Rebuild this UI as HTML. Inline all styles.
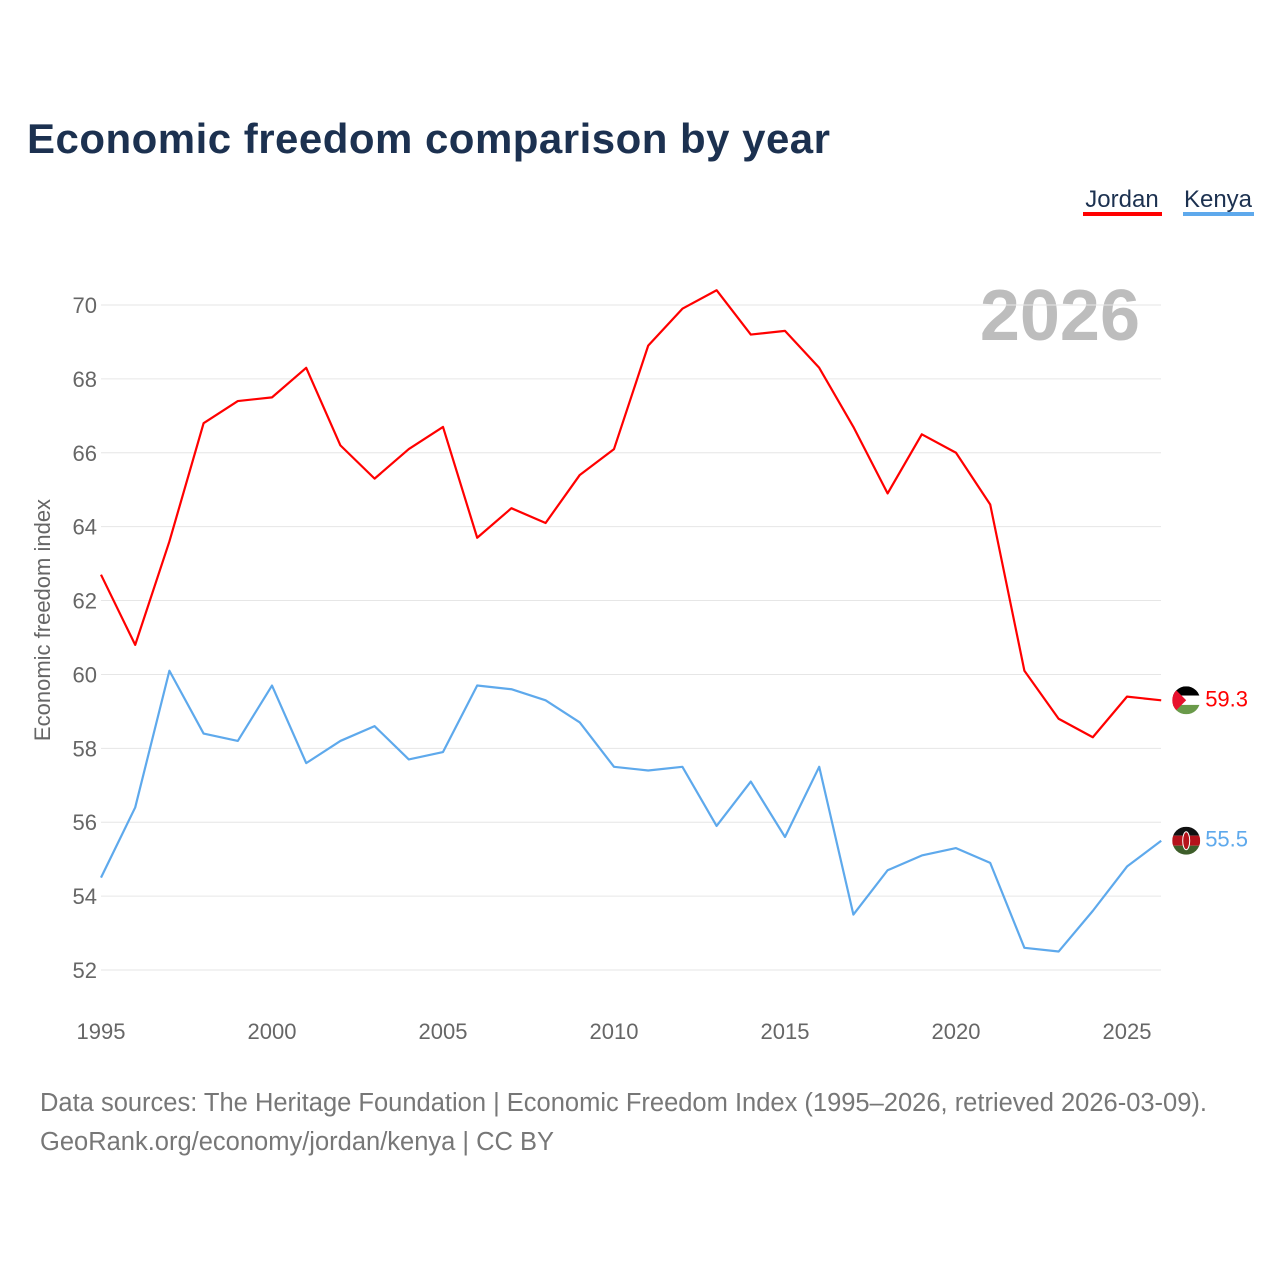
<!DOCTYPE html>
<html><head><meta charset="utf-8"><style>
body{margin:0;background:#fff;font-family:"Liberation Sans",sans-serif;}
#wrap{position:relative;width:1280px;height:1280px;overflow:hidden;}
</style></head><body>
<div id="wrap">
<svg id="chart" width="1280" height="1280">
<defs id="defs"></defs>
<text x="27" y="153" font-size="42" font-weight="bold" fill="#1c3150" textLength="803">Economic freedom comparison by year</text>
<g><text x="1122" y="207" font-size="24" fill="#1c3150" text-anchor="middle">Jordan</text><rect x="1083" y="212" width="79" height="4" fill="#ff0000"/></g>
<g><text x="1218" y="207" font-size="24" fill="#1c3150" text-anchor="middle">Kenya</text><rect x="1183" y="212" width="71" height="4" fill="#5ea9ec"/></g>
<text x="1140" y="340" font-size="72" font-weight="bold" fill="#bdbdbd" text-anchor="end">2026</text>
<text transform="translate(50,620) rotate(-90)" font-size="22" fill="#666" text-anchor="middle">Economic freedom index</text>
<g id="grid"></g><g id="series"></g>
<text x="40" y="1111" font-size="25.5" fill="#777" textLength="1167">Data sources: The Heritage Foundation | Economic Freedom Index (1995–2026, retrieved 2026-03-09).</text>
<text x="40" y="1150" font-size="25.5" fill="#777">GeoRank.org/economy/jordan/kenya | CC BY</text>
</svg>
</div>
<script>
const years=[1995,1996,1997,1998,1999,2000,2001,2002,2003,2004,2005,2006,2007,2008,2009,2010,2011,2012,2013,2014,2015,2016,2017,2018,2019,2020,2021,2022,2023,2024,2025,2026];
const jordan=[62.7,60.8,63.6,66.8,67.4,67.5,68.3,66.2,65.3,66.1,66.7,63.7,64.5,64.1,65.4,66.1,68.9,69.9,70.4,69.2,69.3,68.3,66.7,64.9,66.5,66.0,64.6,60.1,58.8,58.3,59.4,59.3];
const kenya=[54.5,56.4,60.1,58.4,58.2,59.7,57.6,58.2,58.6,57.7,57.9,59.7,59.6,59.3,58.7,57.5,57.4,57.5,55.9,57.1,55.6,57.5,53.5,54.7,55.1,55.3,54.9,52.6,52.5,53.6,54.8,55.5];
const yTicks=[52,54,56,58,60,62,64,66,68,70];
const xTicks=[1995,2000,2005,2010,2015,2020,2025];
const NS="http://www.w3.org/2000/svg";
const x=v=>101+(v-1995)*(1127-101)/30;
const y=v=>970-(v-52)*(970-305)/18;
const grid=document.getElementById('grid'),ser=document.getElementById('series'),defs=document.getElementById('defs');
function mk(tag,attrs,parent,txt){const e=document.createElementNS(NS,tag);for(const k in attrs)e.setAttribute(k,attrs[k]);if(txt!=null)e.textContent=txt;parent.appendChild(e);return e;}
yTicks.forEach(t=>{
 const l=mk('line',{x1:101,x2:1161,y1:y(t),y2:y(t),stroke:'#e6e6e6','stroke-width':1},grid);
 
 
 const tx=mk('text',{x:97,y:y(t)+8,'font-size':22,fill:'#666','text-anchor':'end'},grid,t);
 
 
});
xTicks.forEach(t=>{
 const tx=mk('text',{x:x(t),y:1039,'font-size':22,fill:'#666','text-anchor':'middle'},grid,t);
 
 
});
function line(vals,color,name){
 const p=mk('polyline',{points:vals.map((v,i)=>x(years[i])+','+y(v)).join(' '),fill:'none',stroke:color,'stroke-width':2.2,'stroke-linejoin':'round'},ser);
 
 
 const last=vals[vals.length-1],cx=x(years[years.length-1])+25,cy=y(last);
 const cp=mk('clipPath',{id:'clip-'+name},defs);
 mk('circle',{cx:cx,cy:cy,r:14},cp);
 const g=mk('g',{'clip-path':'url(#clip-'+name+')'},ser);
 
 
 if(name==='jordan'){
  mk('rect',{x:cx-14,y:cy-14,width:28,height:9.3,fill:'#000'},g);
  mk('rect',{x:cx-14,y:cy-4.7,width:28,height:9.3,fill:'#fff'},g);
  mk('rect',{x:cx-14,y:cy+4.6,width:28,height:9.4,fill:'#6a9a4a'},g);
  mk('polygon',{points:`${cx-14},${cy-14} ${cx},${cy} ${cx-14},${cy+14}`,fill:'#e8112d'},g);
 }else{
  mk('rect',{x:cx-14,y:cy-14,width:28,height:9,fill:'#111'},g);
  mk('rect',{x:cx-14,y:cy-5,width:28,height:10,fill:'#b5121b'},g);
  mk('rect',{x:cx-14,y:cy+5,width:28,height:9,fill:'#3e5e2a'},g);
  mk('ellipse',{cx:cx,cy:cy,rx:3.5,ry:9,fill:'#b5121b',stroke:'#fff','stroke-width':1},g);
 }
 const lbl=mk('text',{x:cx+19,y:cy+6,'font-size':22,fill:color},ser,last.toFixed(1));
 
 
}
line(jordan,'#ff0000','jordan');
line(kenya,'#5ea9ec','kenya');
</script>
</body></html>
